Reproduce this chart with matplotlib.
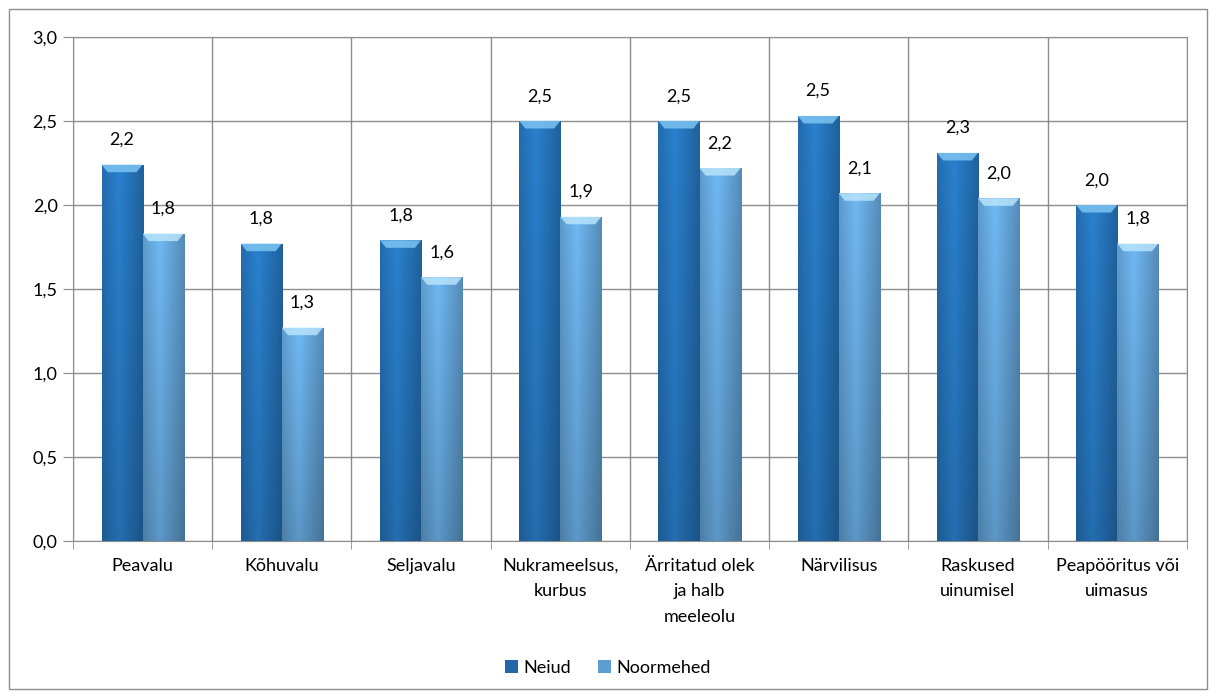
import numpy as np
import matplotlib.pyplot as plt
from matplotlib.patches import Rectangle, Polygon
from matplotlib.ticker import FixedLocator

plt.rcParams['font.family'] = ['Lato', 'DejaVu Sans']

categories = ['Peavalu', 'Kõhuvalu', 'Seljavalu', 'Nukrameelsus,\nkurbus',
              'Ärritatud olek\nja halb\nmeeleolu', 'Närvilisus',
              'Raskused\nuinumisel', 'Peapööritus või\nuimasus']
neiud = [2.24, 1.77, 1.79, 2.50, 2.50, 2.53, 2.31, 2.00]
noormehed = [1.83, 1.27, 1.57, 1.93, 2.22, 2.07, 2.04, 1.77]
series_names = ['Neiud', 'Noormehed']

fig = plt.figure(figsize=(12.16, 6.97), dpi=100)
ax = fig.add_axes([0.060, 0.2238, 0.916, 0.7232])

# outer chart border
fig.patches.append(Rectangle((9 / 1216, 1 - 689 / 697), 1198 / 1216, 680 / 697,
                             transform=fig.transFigure, fill=False,
                             edgecolor='#8c8c8c', linewidth=1))

x = np.arange(len(categories))
w = 0.295
grid_c = '#8c8c8c'


def grad_bar(xc, h, base, light, vdark):
    bars = ax.bar(xc, h, w, color=base, edgecolor='none', zorder=3)
    base = np.array(base)
    for b in bars:
        t = np.linspace(0, 1, 40)
        fh = 1.10 - np.abs(t - 0.4) * 0.45
        v = np.linspace(1.0, vdark, 60)  # top -> bottom
        cols = np.clip(base[None, None, :] * fh[None, :, None] * v[:, None, None], 0, 1)
        img = ax.imshow(cols, extent=[b.get_x(), b.get_x() + w, 0, b.get_height()],
                        aspect='auto', zorder=3.5, origin='upper')
        img.set_clip_path(b)
        # bevel on top
        bx, bh = b.get_x(), b.get_height()
        d = 0.045
        ax.add_patch(Polygon([(bx, bh), (bx + w, bh), (bx + w * 0.85, bh - d), (bx + w * 0.15, bh - d)],
                             facecolor=light, edgecolor='none', alpha=0.85, zorder=4))
    return bars


b1 = grad_bar(x - w / 2, neiud, (0.15, 0.46, 0.74), '#7cc4f2', 0.85)
b2 = grad_bar(x + w / 2, noormehed, (0.40, 0.66, 0.87), '#b8e4fb', 0.82)
ax.set_aspect('auto')

for i in range(len(categories)):
    ax.text(x[i] - w / 2, neiud[i] + 0.10, f'{neiud[i]:.1f}'.replace('.', ','),
            ha='center', va='bottom', fontsize=13)
    ax.text(x[i] + w / 2, noormehed[i] + 0.10, f'{noormehed[i]:.1f}'.replace('.', ','),
            ha='center', va='bottom', fontsize=13)

ax.set_xlim(-0.5, len(categories) - 0.5)
ax.set_ylim(0, 3.0)
ax.set_yticks(np.arange(0, 3.01, 0.5))
ax.set_yticklabels([f'{v:.1f}'.replace('.', ',') for v in np.arange(0, 3.01, 0.5)], fontsize=13)
ax.set_xticks(x)
ax.set_xticklabels(categories, fontsize=13, va='top', linespacing=1.75)
ax.tick_params(axis='x', length=0, pad=12)
ax.xaxis.set_minor_locator(FixedLocator(np.arange(-0.5, len(categories), 1)))
ax.tick_params(axis='x', which='minor', length=6, color=grid_c)
ax.tick_params(axis='y', length=7, color=grid_c, pad=4)
ax.grid(axis='y', color=grid_c, linewidth=1, zorder=0)
ax.grid(axis='x', which='minor', color=grid_c, linewidth=1, zorder=0)
for s in ax.spines.values():
    s.set_color(grid_c)

h1 = Rectangle((0, 0), 1, 1, facecolor='#2268a8')
h2 = Rectangle((0, 0), 1, 1, facecolor='#5c9ed4')
fig.legend([h1, h2], series_names, loc='center', bbox_to_anchor=(0.5, 1 - 668 / 697),
           ncol=2, frameon=False, fontsize=13, handlelength=0.7, handleheight=0.7,
           handletextpad=0.3, columnspacing=1.5)

fig.savefig('out.png', dpi=100)
